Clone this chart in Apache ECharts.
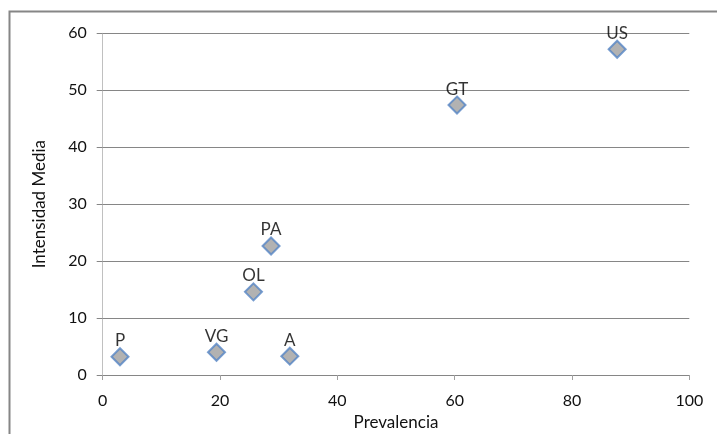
<!DOCTYPE html>
<html><head><meta charset="utf-8">
<script src="https://cdn.jsdelivr.net/npm/echarts@6/dist/echarts.min.js"></script>
<style>html,body{margin:0;padding:0;background:#fff}#c{width:717px;height:434px}</style>
</head><body><div id="c"></div>
<script>
const labels = ['P','VG','A','OL','PA','GT','US'];
const prevalencia = [2.95, 19.4, 31.9, 25.7, 28.7, 60.4, 87.7];
const intensidad = [3.2, 4.0, 3.3, 14.6, 22.65, 47.4, 57.2];
const xTicks = [0, 20, 40, 60, 80, 100];
const yTicks = [0, 10, 20, 30, 40, 50, 60];

const font = 'Lato, Open Sans, sans-serif';
const chart = echarts.init(document.getElementById('c'), null, {renderer:'canvas'});
chart.setOption({
  animation: false,
  backgroundColor: '#fff',
  graphic: [{type:'rect', shape:{x:9.5, y:11.5, width:800, height:500}, style:{fill:'none', stroke:'#868686', lineWidth:2}, silent:true}],
  grid: {left: 102.7, right: 27.7, top: 33.3, bottom: 59, containLabel:false, outerBoundsMode:'none'},
  xAxis: {
    type:'value', min: xTicks[0], max: xTicks[xTicks.length-1], interval: 20,
    name:'Prevalencia', nameLocation:'middle', nameGap: 38,
    nameTextStyle:{fontFamily:font, fontSize:17, color:'#111'},
    axisLine:{show:true, lineStyle:{color:'#868686', width:1}},
    axisTick:{show:true, length:5, lineStyle:{color:'#a0a0a0'}},
    axisLabel:{fontFamily:font, fontSize:16, color:'#111', margin:18},
    splitLine:{show:false}
  },
  yAxis: {
    type:'value', min: yTicks[0], max: yTicks[yTicks.length-1], interval: 10,
    name:'Intensidad Media', nameLocation:'middle', nameGap: 55,
    nameTextStyle:{fontFamily:font, fontSize:17, color:'#111'},
    axisLine:{show:true, lineStyle:{color:'#c0c0c0', width:1}},
    axisTick:{show:true, length:6, lineStyle:{color:'#868686'}},
    axisLabel:{fontFamily:font, fontSize:16, color:'#111', margin:16},
    splitLine:{show:true, lineStyle:{color:'#868686', width:1}}
  },
  series: [{
    type:'scatter',
    symbol:'diamond', symbolSize:[17,17],
    data: prevalencia.map((x,i)=>({value:[x, intensidad[i]], name:labels[i]})),
    itemStyle:{color:'#9f9f9f', borderColor:'#5584c4', borderWidth:2},
    label:{show:true, position:'top', distance:-2, formatter: p=>p.name, fontFamily:font, fontSize:17, color:'#000'}
  }]
});
</script></body></html>
